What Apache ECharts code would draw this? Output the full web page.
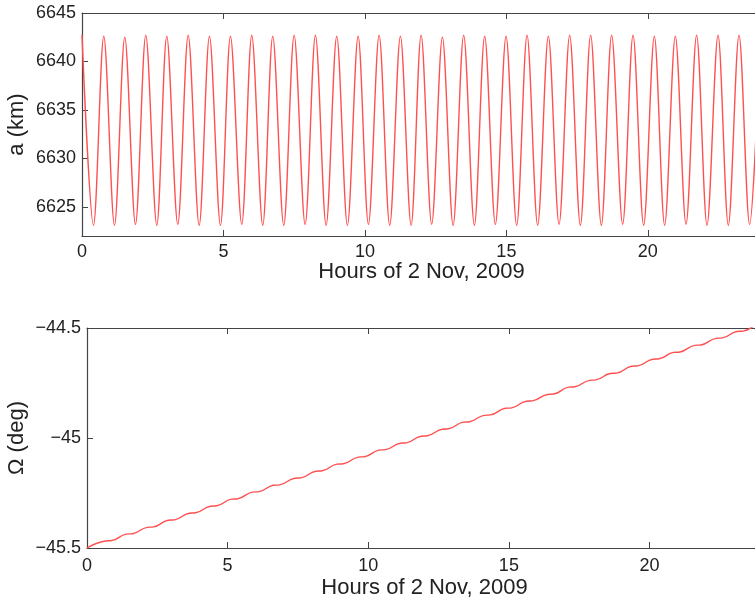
<!DOCTYPE html>
<html>
<head>
<meta charset="utf-8">
<script src="https://cdn.jsdelivr.net/npm/echarts@6/dist/echarts.min.js"></script>
<style>
html,body{margin:0;padding:0;background:#fff;}
#c{width:755px;height:603px;}
</style>
</head>
<body>
<div id="c"></div>
<script>
// ---- Data ----
// Top panel: semi-major axis a (km), extrema of the oscillation
const aHours = [0.000,0.406,0.770,1.148,1.512,1.890,2.254,2.643,2.996,3.385,3.753,4.141,4.505,4.894,5.247,5.647,6.000,6.389,6.742,7.131,7.498,7.887,8.251,8.629,9.004,9.382,9.760,10.124,10.502,10.876,11.254,11.633,11.986,12.360,12.739,13.117,13.491,13.869,14.233,14.611,14.989,15.364,15.731,16.106,16.484,16.862,17.237,17.615,17.979,18.357,18.721,19.110,19.477,19.852,20.230,20.594,20.972,21.350,21.724,22.092,22.481,22.845,23.223,23.597,23.970];
const aValues = [6642.7,6623.1,6642.6,6623.1,6642.5,6623.2,6642.7,6623.1,6642.6,6623.2,6642.7,6623.1,6642.6,6623.1,6642.6,6623.2,6642.7,6623.1,6642.6,6623.1,6642.7,6623.2,6642.7,6623.1,6642.6,6623.1,6642.6,6623.2,6642.7,6623.1,6642.6,6623.1,6642.7,6623.2,6642.5,6623.1,6642.7,6623.1,6642.6,6623.2,6642.6,6623.1,6642.7,6623.1,6642.6,6623.2,6642.7,6623.1,6642.7,6623.1,6642.7,6623.2,6642.7,6623.1,6642.6,6623.1,6642.6,6623.2,6642.7,6623.1,6642.7,6623.1,6642.7,6623.2,6642.6];

// Bottom panel: RAAN Omega (deg), plateau edges of the stepped rise
const omegaHours = [0.00,0.66,0.88,1.40,1.62,2.14,2.36,2.89,3.11,3.64,3.86,4.39,4.61,5.14,5.36,5.89,6.11,6.63,6.85,7.39,7.61,8.14,8.36,8.89,9.11,9.65,9.87,10.39,10.61,11.14,11.36,11.88,12.10,12.63,12.85,13.38,13.60,14.12,14.34,14.88,15.10,15.62,15.84,16.37,16.59,17.13,17.35,17.87,18.09,18.61,18.83,19.37,19.59,20.12,20.34,20.86,21.08,21.61,21.83,22.37,22.59,23.11,23.33,23.86,24.00];
const omegaValues = [-45.500,-45.468,-45.466,-45.437,-45.435,-45.406,-45.404,-45.374,-45.372,-45.342,-45.340,-45.310,-45.308,-45.278,-45.276,-45.246,-45.244,-45.215,-45.213,-45.183,-45.181,-45.151,-45.149,-45.119,-45.117,-45.087,-45.085,-45.055,-45.053,-45.024,-45.022,-44.992,-44.990,-44.960,-44.958,-44.928,-44.926,-44.897,-44.895,-44.865,-44.863,-44.833,-44.831,-44.802,-44.800,-44.769,-44.767,-44.738,-44.736,-44.707,-44.705,-44.674,-44.672,-44.642,-44.640,-44.611,-44.609,-44.579,-44.577,-44.547,-44.545,-44.516,-44.514,-44.484,-44.482];

// Tick values
const hourTicks = [0, 5, 10, 15, 20];
const aTicks = [6625, 6630, 6635, 6640, 6645];
const omegaTicks = [-45.5, -45, -44.5];

const xName = 'Hours of 2 Nov, 2009';
const aName = 'a (km)';
const omegaName = 'Ω (deg)';

// ---- Chart ----
const FONT = 'Liberation Sans, Arial, Helvetica, sans-serif';
const TXT = '#222';
const AX = '#444';
const LINE = '#ff5050';

function xAx(gridIndex, pos, showLabel, name, nameGap, margin) {
  return {
    type: 'value', gridIndex: gridIndex, position: pos,
    min: 0, max: 24,
    name: name || '', nameLocation: 'middle', nameGap: nameGap || 0, nameMoveOverlap: false,
    nameTextStyle: {fontFamily: FONT, fontSize: 22, color: TXT},
    axisLine: {show: true, onZero: false, lineStyle: {color: AX, width: 1.2}},
    axisTick: {show: true, inside: true, length: 6, customValues: hourTicks, lineStyle: {color: AX, width: 1}},
    axisLabel: {show: showLabel, customValues: hourTicks, margin: margin || 7, fontFamily: FONT, fontSize: 18, color: TXT},
    splitLine: {show: false}
  };
}
function yAx(gridIndex, pos, showLabel, min, max, ticks, name, nameGap, fmt) {
  return {
    type: 'value', gridIndex: gridIndex, position: pos,
    min: min, max: max,
    name: name || '', nameLocation: 'middle', nameGap: nameGap || 0, nameMoveOverlap: false,
    nameTextStyle: {fontFamily: FONT, fontSize: 22, color: TXT},
    axisLine: {show: true, onZero: false, lineStyle: {color: AX, width: 1.2}},
    axisTick: {show: true, inside: true, length: 6, customValues: ticks, lineStyle: {color: AX, width: 1}},
    axisLabel: {show: showLabel, customValues: ticks, margin: 6, fontFamily: FONT, fontSize: 18, color: TXT, formatter: fmt},
    splitLine: {show: false}
  };
}

const chart = echarts.init(document.getElementById('c'), null, {renderer: 'canvas'});
chart.setOption({
  animation: false,
  backgroundColor: '#fff',
  grid: [
    {left: 82, top: 13, width: 679, height: 223, outerBoundsMode: 'none', show: false},
    {left: 87, top: 328, width: 675, height: 220, outerBoundsMode: 'none', show: false}
  ],
  xAxis: [
    xAx(0, 'bottom', true, xName, 25, 7),
    xAx(0, 'top', false),
    xAx(1, 'bottom', true, xName, 29, 9),
    xAx(1, 'top', false)
  ],
  yAxis: [
    yAx(0, 'left', true, 6622, 6645, aTicks, aName, 54, v => String(v)),
    yAx(0, 'right', false, 6622, 6645, aTicks),
    yAx(1, 'left', true, -45.5, -44.5, omegaTicks, omegaName, 59, v => String(v).replace('-', '\u2212')),
    yAx(1, 'right', false, -45.5, -44.5, omegaTicks)
  ],
  series: [
    {
      type: 'line', xAxisIndex: 0, yAxisIndex: 0,
      data: aHours.map((h, i) => [h, aValues[i]]),
      showSymbol: false, smooth: 0.33, clip: true,
      lineStyle: {color: LINE, width: 1.4}
    },
    {
      type: 'line', xAxisIndex: 2, yAxisIndex: 2,
      data: omegaHours.map((h, i) => [h, omegaValues[i]]),
      showSymbol: false, smooth: 0.5, clip: true,
      lineStyle: {color: LINE, width: 1.4}
    }
  ]
});
</script>
</body>
</html>
